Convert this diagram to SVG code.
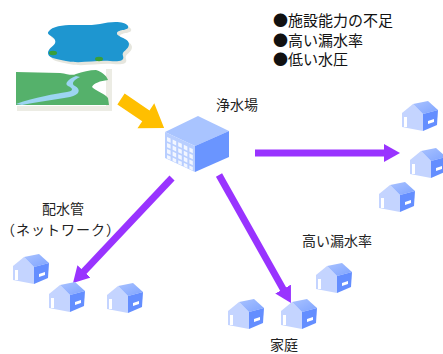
<svg xmlns="http://www.w3.org/2000/svg" xmlns:xlink="http://www.w3.org/1999/xlink" width="443" height="354" viewBox="0 0 443 354">
  <style>
    .lbl { font-family: "Noto Sans CJK JP", "Noto Sans", sans-serif; font-size: 14px; fill: #222; }
    .bul { font-family: "Noto Sans CJK JP", "Noto Sans", sans-serif; font-size: 15px; fill: #111; }
    .pipe { stroke: #9933FF; stroke-width: 7; fill: none; marker-end: url(#head); }
    .gable { fill: #C4D4FF; }
    .wall { fill: #648EFF; }
    .hole { fill: #FFFFFF; }
  </style>
  <defs>
    <marker id="head" viewBox="0 0 16 18" refX="1" refY="9" markerWidth="16" markerHeight="18" markerUnits="userSpaceOnUse" orient="auto">
      <path d="M0,0 L16,9 L0,18 Z" fill="#9933FF"/>
    </marker>
    <linearGradient id="roofGrad" x1="0" y1="0" x2="1" y2="1">
      <stop offset="0" stop-color="#A9C2FF"/>
      <stop offset="1" stop-color="#7FA4FF"/>
    </linearGradient>
    <!-- small house icon, about 36 x 29 -->
    <g id="house">
      <polygon class="gable" points="1,11 12,2 22,12 22,29 1,25"/>
      <polygon fill="url(#roofGrad)" points="12,2 27,-1 37,8 22,12"/>
      <polygon class="wall" points="22,12 37,8 36,23 22,29"/>
      <rect class="hole" x="3" y="15" width="3" height="10"/>
      <polygon class="hole" points="27,19 33,17 33,20 27,22"/>
    </g>
  </defs>

  <rect width="443" height="354" fill="#FFFFFF"/>

  <!-- water sources -->
  <g id="lake">
    <path transform="translate(3,3)" fill="#E6E6DE" d="M50,30 C60,22 85,27 100,24 C112,21 125,21 128,26 C130,31 118,29 117,33 C116,37 129,38 129,44 C129,50 121,51 123,56 C125,61 118,62 110,61 C95,60 80,64 66,61 C56,59 47,58 48,52 C50,46 57,45 55,40 C53,35 44,35 50,30 Z"/>
    <path fill="#1E96D0" d="M50,30 C60,22 85,27 100,24 C112,21 125,21 128,26 C130,31 118,29 117,33 C116,37 129,38 129,44 C129,50 121,51 123,56 C125,61 118,62 110,61 C95,60 80,64 66,61 C56,59 47,58 48,52 C50,46 57,45 55,40 C53,35 44,35 50,30 Z"/>
    <ellipse cx="53" cy="53" rx="4" ry="2.2" fill="#3A9E3A"/>
    <ellipse cx="99" cy="59" rx="4" ry="2.2" fill="#3A9E3A"/>
  </g>
  <g id="river">
    <rect x="106" y="69" width="6" height="42" fill="#ECECE4"/>
    <rect x="17" y="106" width="95" height="5" fill="#ECECE4"/>
    <path fill="#55B16B" d="M16,72 L60,73 C68,74 72,76 76,74 C82,72 90,70 96,70 C102,72 106,75 108,80 C100,81 94,83 92,87 C96,91 104,93 108,98 L109,105 L16,105 Z"/>
    <path fill="#9CD5F2" d="M16,104 C35,97 55,94 67,92 C74,91 73,88 68,86 C64,84 68,79 76,76 L80,77 C73,80 71,84 75,86 C81,89 80,95 70,97 C55,100 35,102 22,105 Z"/>
  </g>

  <!-- treatment plant -->
  <g id="plant">
    <polygon fill="#A9C4FF" points="165,132 198,116 229,131 195,146"/>
    <polygon fill="#B8CEFF" points="165,132 195,146 195,172 165,158"/>
    <polygon fill="#6A95FF" points="195,146 229,131 229,157 195,172"/>
    <g transform="translate(165,132) skewY(25)" fill="#F2F6FF">
      <rect x="2" y="4" width="3.6" height="4.2"/><rect x="7.6" y="4" width="3.6" height="4.2"/><rect x="13.2" y="4" width="3.6" height="4.2"/><rect x="18.8" y="4" width="3.6" height="4.2"/><rect x="24.4" y="4" width="3.4" height="4.2"/>
      <rect x="2" y="10" width="3.6" height="4.2"/><rect x="7.6" y="10" width="3.6" height="4.2"/><rect x="13.2" y="10" width="3.6" height="4.2"/><rect x="18.8" y="10" width="3.6" height="4.2"/><rect x="24.4" y="10" width="3.4" height="4.2"/>
      <rect x="2" y="16" width="3.6" height="4.2"/><rect x="7.6" y="16" width="3.6" height="4.2"/><rect x="13.2" y="16" width="3.6" height="4.2"/><rect x="18.8" y="16" width="3.6" height="4.2"/><rect x="24.4" y="16" width="3.4" height="4.2"/>
      <rect x="2" y="22" width="3.6" height="3.5"/><rect x="7.6" y="22" width="3.6" height="3.5"/><rect x="13.2" y="22" width="3.6" height="3.5"/><rect x="18.8" y="22" width="3.6" height="3.5"/><rect x="24.4" y="22" width="3.4" height="3.5"/>
    </g>
    <text class="lbl" x="237" y="110" text-anchor="middle">浄水場</text>
  </g>

  <!-- connectors -->
  <g id="connectors">
    <polygon fill="#FFBF00" transform="translate(121,99) rotate(34)" points="0,-6.5 30,-6.5 30,-15 52,0 30,15 30,6.5 0,6.5"/>
    <path class="pipe" d="M255,153 L385,153"/>
    <path class="pipe" d="M172,178 L83.3,272.1"/>
    <path class="pipe" d="M219,175 L283.6,289.9"/>
  </g>

  <!-- homes -->
  <g id="home-e1"><use xlink:href="#house" x="401" y="102"/></g>
  <g id="home-e2"><use xlink:href="#house" x="409" y="149"/></g>
  <g id="home-e3"><use xlink:href="#house" x="378" y="183"/></g>
  <g id="home-w1"><use xlink:href="#house" x="12" y="255"/></g>
  <g id="home-w2"><use xlink:href="#house" x="48" y="283"/></g>
  <g id="home-w3"><use xlink:href="#house" x="106" y="284"/></g>
  <g id="home-s1"><use xlink:href="#house" x="227" y="300"/></g>
  <g id="home-s2"><use xlink:href="#house" x="280" y="300"/></g>
  <g id="home-s3"><use xlink:href="#house" x="315" y="264"/></g>

  <!-- labels -->
  <g id="issues">
    <text class="bul" x="273" y="26">●施設能力の不足</text>
    <text class="bul" x="273" y="46">●高い漏水率</text>
    <text class="bul" x="273" y="65">●低い水圧</text>
  </g>
  <g id="network-label">
    <text class="lbl" x="63" y="214" text-anchor="middle">配水管</text>
    <text class="lbl" x="61" y="235" text-anchor="middle" letter-spacing="1">（ネットワーク）</text>
  </g>
  <g id="leak-label"><text class="lbl" x="302" y="246">高い漏水率</text></g>
  <g id="home-label"><text class="lbl" x="284" y="350" text-anchor="middle">家庭</text></g>
</svg>
